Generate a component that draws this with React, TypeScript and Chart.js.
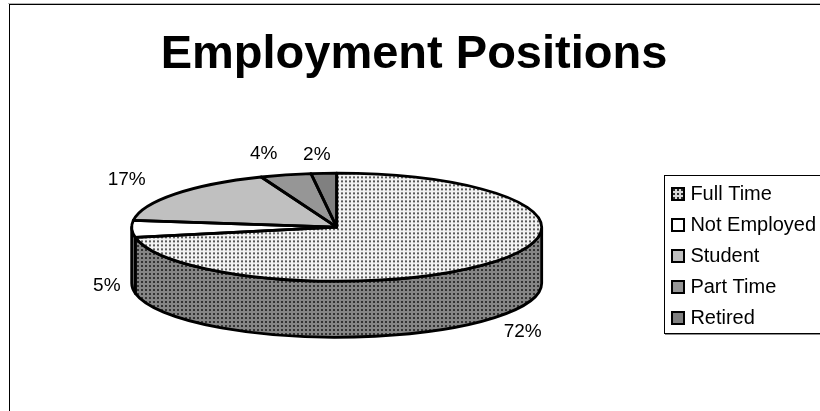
import React, { useEffect, useRef } from "react";
import { Chart, registerables } from "chart.js";

Chart.register(...registerables);

const categories = ["Full Time", "Not Employed", "Student", "Part Time", "Retired"];
const shares = [72, 5, 17, 4, 2];
const flatFills = ["", "#ffffff", "#c0c0c0", "#969696", "#808080"];
const wallFills = ["", "#6e6e6e", "#6e6e6e", "#6e6e6e", "#6e6e6e"];

const FONT = "'Liberation Sans', Arial, sans-serif";
const SQUASH = 54 / 205;
const DEPTH = 56;
const OUTLINE = 2.8;

// Label nudges away from the rim of each slice, in pixels.
const labelNudges = [
  [28, 14],
  [-25, 1],
  [-48, -14],
  [-22, -21],
  [-7, -19],
];

function dotTile(bg: string, dot: string) {
  const tile = document.createElement("canvas");
  tile.width = 4;
  tile.height = 4;
  const g = tile.getContext("2d")!;
  g.fillStyle = bg;
  g.fillRect(0, 0, 4, 4);
  g.fillStyle = dot;
  g.fillRect(1, 1, 2, 2);
  return tile;
}

function arcGeometry(chart: any) {
  return chart.getDatasetMeta(0).data.map((el: any) =>
    el.getProps(["x", "y", "startAngle", "endAngle", "outerRadius"], true)
  );
}

const framePlugin = {
  id: "frame",
  // The heading sits a little left of the centre of its block.
  afterLayout(chart: any) {
    chart.titleBlock.left -= 3.5;
    chart.titleBlock.right -= 3.5;
  },
  beforeDraw(chart: any) {
    const { ctx, width, height } = chart;
    ctx.save();
    ctx.fillStyle = "#ffffff";
    ctx.fillRect(0, 0, width, height);
    ctx.fillStyle = "#b4b4b4";
    ctx.fillRect(8, 3, width - 8, 1);
    ctx.fillStyle = "#000000";
    ctx.fillRect(9, 4, width - 9, 1);
    ctx.fillRect(9, 4, 1, height - 4);
    ctx.restore();
  },
  // Legend frame and swatches, hung on the rows the legend laid out.
  afterDraw(chart: any, _args: any, opts: any) {
    const { ctx, width } = chart;
    const boxes = chart.legend.legendHitBoxes;
    const last = boxes[boxes.length - 1];
    const top = boxes[0].top - 9;
    const bottom = last.top + last.height + 5;
    ctx.save();
    ctx.strokeStyle = "#000000";
    ctx.lineWidth = 1;
    ctx.strokeRect(664.5, top + 0.5, width, bottom - top);
    ctx.fillStyle = "#8c8c8c";
    ctx.fillRect(665, bottom + 1, width, 1);

    ctx.lineWidth = 2;
    boxes.forEach((box: any, i: number) => {
      const midY = Math.round(box.top + box.height / 2);
      ctx.fillStyle = opts.swatches[i];
      ctx.fillRect(672, midY - 6, 12, 12);
      ctx.strokeRect(672, midY - 6, 12, 12);
    });
    ctx.restore();
  },
};

const tiltedPiePlugin = {
  id: "tiltedPie",
  beforeDatasetsDraw(chart: any, _args: any, opts: any) {
    const { ctx } = chart;
    const arcs = arcGeometry(chart);
    const { x: cx, y: cy, outerRadius: rx } = arcs[0];
    const ry = rx * SQUASH;

    // Rim of the disc: only the part of each slice that faces the viewer.
    ctx.save();
    ctx.lineWidth = OUTLINE;
    ctx.lineJoin = "round";
    ctx.strokeStyle = "#000000";
    arcs.forEach((a: any, i: number) => {
      const s = Math.max(a.startAngle, 0);
      const e = Math.min(a.endAngle, Math.PI);
      if (e <= s) return;
      ctx.beginPath();
      ctx.ellipse(cx, cy, rx, ry, 0, s, e);
      ctx.lineTo(cx + rx * Math.cos(e), cy + ry * Math.sin(e) + DEPTH);
      ctx.ellipse(cx, cy + DEPTH, rx, ry, 0, e, s, true);
      ctx.closePath();
      ctx.fillStyle = opts.wallFills[i];
      ctx.fill();
      ctx.stroke();
    });
    ctx.restore();

    // Everything the controller draws next lands on the flattened disc.
    ctx.save();
    ctx.translate(cx, cy);
    ctx.scale(1, SQUASH);
    ctx.translate(-cx, -cy);
  },
  afterDatasetsDraw(chart: any) {
    const { ctx } = chart;
    ctx.restore();

    const arcs = arcGeometry(chart);
    const { x: cx, y: cy, outerRadius: rx } = arcs[0];
    const ry = rx * SQUASH;

    ctx.save();
    ctx.lineWidth = OUTLINE;
    ctx.lineJoin = "round";
    ctx.strokeStyle = "#000000";
    arcs.forEach((a: any) => {
      ctx.beginPath();
      ctx.moveTo(cx, cy);
      ctx.ellipse(cx, cy, rx, ry, 0, a.startAngle, a.endAngle);
      ctx.closePath();
      ctx.stroke();
    });

    ctx.fillStyle = "#000000";
    ctx.font = `19px ${FONT}`;
    ctx.textAlign = "center";
    ctx.textBaseline = "middle";
    arcs.forEach((a: any, i: number) => {
      const mid = (a.startAngle + a.endAngle) / 2;
      const sin = Math.sin(mid);
      const [nx, ny] = labelNudges[i];
      const px = cx + rx * Math.cos(mid) + nx;
      const py = cy + ry * sin + (sin > 0 ? DEPTH : 0) + ny;
      ctx.fillText(`${shares[i]}%`, px, py);
    });
    ctx.restore();
  },
};

export default function App() {
  const ref = useRef<HTMLCanvasElement>(null);

  useEffect(() => {
    const g = ref.current!.getContext("2d")!;
    const topFill = g.createPattern(dotTile("#f2f2f2", "#5a5a5a"), "repeat")!;
    topFill.setTransform(new DOMMatrix().scale(1, 1 / SQUASH));
    const wallFill = g.createPattern(dotTile("#858585", "#333333"), "repeat")!;
    const legendFill = g.createPattern(dotTile("#d8d8d8", "#2a2a2a"), "repeat")!;

    const fills = [topFill, ...flatFills.slice(1)];
    const walls = [wallFill, ...wallFills.slice(1)];

    const chart = new Chart(ref.current!, {
      type: "pie",
      data: {
        labels: categories,
        datasets: [
          {
            data: shares,
            backgroundColor: fills,
            borderWidth: 0,
            radius: 205,
            clip: false,
          } as any,
        ],
      },
      options: {
        responsive: false,
        animation: false,
        events: [],
        layout: { padding: { left: 9, right: -6, top: 0, bottom: 72 } },
        plugins: {
          title: {
            display: true,
            text: "Employment Positions",
            color: "#000000",
            font: { family: FONT, size: 47, weight: "bold" },
            padding: { top: 27, bottom: 32 },
          },
          legend: {
            position: "right",
            align: "end",
            labels: {
              boxWidth: 5,
              boxHeight: 12,
              padding: 11,
              color: "#000000",
              font: { family: FONT, size: 20 },
              generateLabels(c: any) {
                const base = (Chart as any).overrides.pie.plugins.legend.labels.generateLabels(c);
                return base.map((item: any) => ({
                  ...item,
                  fillStyle: "rgba(0,0,0,0)",
                  strokeStyle: "rgba(0,0,0,0)",
                  lineWidth: 0,
                }));
              },
            },
          },
          tooltip: { enabled: false },
          tiltedPie: { wallFills: walls },
          frame: { swatches: [legendFill, ...flatFills.slice(1)] },
        } as any,
      },
      plugins: [framePlugin, tiltedPiePlugin],
    });
    return () => chart.destroy();
  }, []);

  return (
    <canvas
      ref={ref}
      width={820}
      height={411}
      style={{ position: "absolute", left: 0, top: 0, display: "block" }}
    />
  );
}
